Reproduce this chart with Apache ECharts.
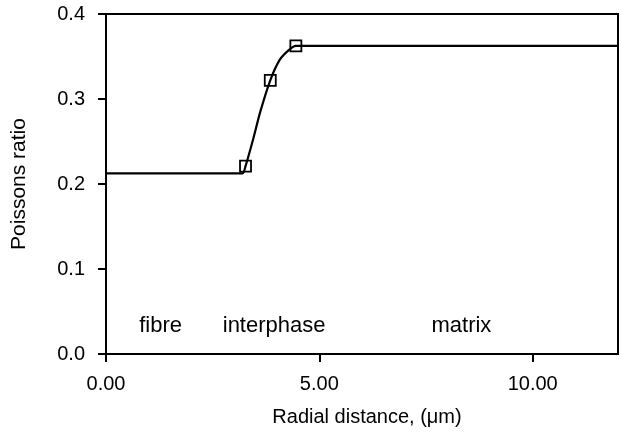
<!DOCTYPE html>
<html>
<head>
<meta charset="utf-8">
<script src="https://cdn.jsdelivr.net/npm/echarts@6/dist/echarts.min.js"></script>
<style>
  html, body { margin: 0; padding: 0; background: #fff; }
  #chart { width: 621px; height: 432px; }
</style>
</head>
<body>
<div id="chart"></div>
<script>
// Poisson's ratio profile across fibre / interphase / matrix
const curveX = [0, 3.20, 3.27, 3.45, 3.61, 3.85, 4.07, 4.27, 4.45, 12];
const curveY = [0.2125, 0.2125, 0.221, 0.253, 0.284, 0.322, 0.346, 0.357, 0.3625, 0.3625];

const markerX = [3.27, 3.85, 4.45];
const markerY = [0.221, 0.322, 0.3625];

const regionNames = ['fibre', 'interphase', 'matrix'];
const regionX = [1.28, 3.94, 8.33];
const regionY = [0.033, 0.033, 0.033];

const xTicks = [0, 5, 10];
const yTicks = [0, 0.1, 0.2, 0.3, 0.4];

const FONT = 'Liberation Sans';

const chart = echarts.init(document.getElementById('chart'), null, { renderer: 'canvas' });

chart.setOption({
  animation: false,
  backgroundColor: '#fff',
  grid: {
    left: 106, right: 3, top: 14, bottom: 76,
    show: true, borderColor: '#000', borderWidth: 2, backgroundColor: 'transparent'
  },
  xAxis: {
    type: 'value', min: 0, max: 12,
    name: 'Radial distance, (\u03bcm)',
    nameLocation: 'middle', nameGap: 53,
    nameTextStyle: { fontFamily: FONT, fontSize: 20, color: '#000', padding: [0, 0, 0, 10] },
    axisLine: { show: true, lineStyle: { color: '#000', width: 2 } },
    axisTick: { show: true, length: 8, inside: false, customValues: xTicks, lineStyle: { color: '#000', width: 2 } },
    axisLabel: {
      customValues: xTicks, margin: 20,
      fontFamily: FONT, fontSize: 20, color: '#000',
      formatter: v => v.toFixed(2)
    },
    splitLine: { show: false }
  },
  yAxis: {
    type: 'value', min: 0, max: 0.4, interval: 0.1,
    name: 'Poissons ratio',
    nameLocation: 'middle', nameGap: 76, nameRotate: 90,
    nameTextStyle: { fontFamily: FONT, fontSize: 21, color: '#000' },
    axisLine: { show: true, lineStyle: { color: '#000', width: 2 } },
    axisTick: { show: true, length: 8, inside: false, customValues: yTicks, lineStyle: { color: '#000', width: 2 } },
    axisLabel: {
      customValues: yTicks, margin: 21,
      fontFamily: FONT, fontSize: 20, color: '#000',
      formatter: v => v.toFixed(1)
    },
    splitLine: { show: false }
  },
  series: [
    {
      type: 'line',
      data: curveX.map((x, i) => [x, curveY[i]]),
      smooth: 0.2,
      showSymbol: false,
      symbol: 'none',
      lineStyle: { color: '#000', width: 2.2 },
      z: 3
    },
    {
      type: 'scatter',
      data: markerX.map((x, i) => [x, markerY[i]]),
      symbol: 'rect',
      symbolSize: 11,
      itemStyle: { color: 'rgba(0,0,0,0)', borderColor: '#000', borderWidth: 1.8, opacity: 1 },
      z: 4
    },
    {
      type: 'scatter',
      data: regionNames.map((n, i) => ({ name: n, value: [regionX[i], regionY[i]] })),
      symbolSize: 0,
      silent: true,
      itemStyle: { opacity: 1 },
      label: {
        show: true, position: 'inside',
        formatter: p => p.name,
        fontFamily: FONT, fontSize: 22, color: '#000', textBorderWidth: 0
      },
      z: 5
    }
  ]
});
</script>
</body>
</html>
